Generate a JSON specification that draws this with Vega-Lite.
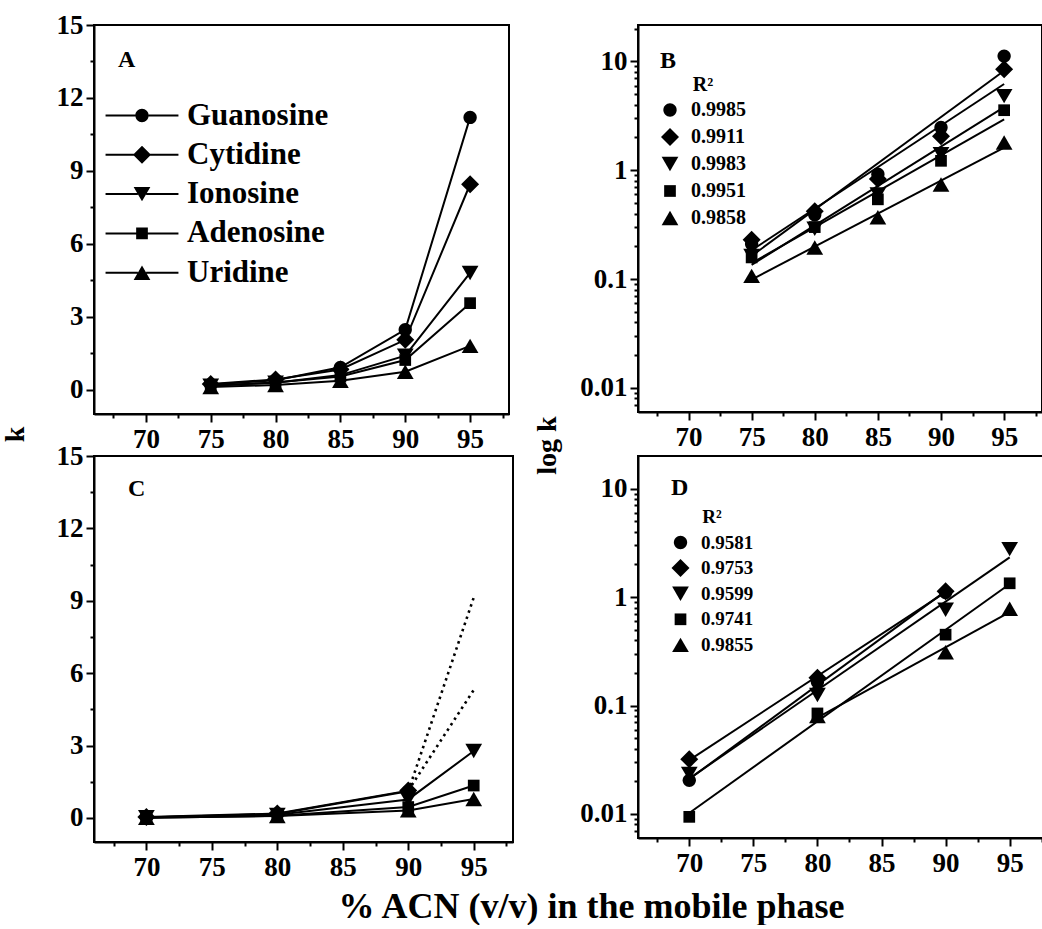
{
  "$schema": "https://vega.github.io/schema/vega-lite/v6.json",
  "background": "white",
  "padding": {"left": 0, "top": 10, "right": 0, "bottom": 0},
  "columns": 2,
  "spacing": {"row": 42, "column": 125},
  "bounds": "flush",
  "resolve": {"scale": {"shape": "independent"}, "legend": {"shape": "independent"}},
  "config": {
    "font": "Liberation Serif",
    "view": {"stroke": "black", "strokeWidth": 2},
    "axis": {
      "domainColor": "black", "domainWidth": 2, "tickColor": "black", "tickWidth": 2,
      "labelFont": "Liberation Serif", "labelFontWeight": "bold", "labelFontSize": 27, "labelColor": "black",
      "labelFlush": false, "labelOverlap": false, "grid": false, "labelPadding": 3,
      "titleFont": "Liberation Serif", "titleFontWeight": "bold", "titleColor": "black"
    },
    "axisX": {"labelPadding": 4},
    "legend": {
      "labelFont": "Liberation Serif", "labelFontWeight": "bold", "labelColor": "black", "labelLimit": 300,
      "titleFont": "Liberation Serif", "titleFontWeight": "bold", "titleColor": "black",
      "symbolFillColor": "black", "symbolStrokeWidth": 0, "symbolSize": 324, "symbolOpacity": 1, "padding": 0
    },
    "title": {"font": "Liberation Serif", "fontSize": 24, "fontWeight": "bold", "color": "black", "anchor": "start", "frame": "group", "baseline": "alphabetic"}
  },
  "datasets": {
    "ab": [
      {"compound": "Guanosine", "r2": "0.9985", "acn": 75, "k": 0.21},
      {"compound": "Guanosine", "r2": "0.9985", "acn": 80, "k": 0.39},
      {"compound": "Guanosine", "r2": "0.9985", "acn": 85, "k": 0.92},
      {"compound": "Guanosine", "r2": "0.9985", "acn": 90, "k": 2.47},
      {"compound": "Guanosine", "r2": "0.9985", "acn": 95, "k": 11.2},
      {"compound": "Cytidine", "r2": "0.9911", "acn": 75, "k": 0.23},
      {"compound": "Cytidine", "r2": "0.9911", "acn": 80, "k": 0.42},
      {"compound": "Cytidine", "r2": "0.9911", "acn": 85, "k": 0.83},
      {"compound": "Cytidine", "r2": "0.9911", "acn": 90, "k": 2.05},
      {"compound": "Cytidine", "r2": "0.9911", "acn": 95, "k": 8.45},
      {"compound": "Ionosine", "r2": "0.9983", "acn": 75, "k": 0.163},
      {"compound": "Ionosine", "r2": "0.9983", "acn": 80, "k": 0.29},
      {"compound": "Ionosine", "r2": "0.9983", "acn": 85, "k": 0.6},
      {"compound": "Ionosine", "r2": "0.9983", "acn": 90, "k": 1.4},
      {"compound": "Ionosine", "r2": "0.9983", "acn": 95, "k": 4.8},
      {"compound": "Adenosine", "r2": "0.9951", "acn": 75, "k": 0.158},
      {"compound": "Adenosine", "r2": "0.9951", "acn": 80, "k": 0.3},
      {"compound": "Adenosine", "r2": "0.9951", "acn": 85, "k": 0.54},
      {"compound": "Adenosine", "r2": "0.9951", "acn": 90, "k": 1.22},
      {"compound": "Adenosine", "r2": "0.9951", "acn": 95, "k": 3.56},
      {"compound": "Uridine", "r2": "0.9858", "acn": 75, "k": 0.107},
      {"compound": "Uridine", "r2": "0.9858", "acn": 80, "k": 0.195},
      {"compound": "Uridine", "r2": "0.9858", "acn": 85, "k": 0.37},
      {"compound": "Uridine", "r2": "0.9858", "acn": 90, "k": 0.74},
      {"compound": "Uridine", "r2": "0.9858", "acn": 95, "k": 1.8}
    ],
    "fitB": [
      {"compound": "Guanosine", "acn": 75, "k": 0.163},
      {"compound": "Guanosine", "acn": 95, "k": 8.2},
      {"compound": "Cytidine", "acn": 75, "k": 0.184},
      {"compound": "Cytidine", "acn": 95, "k": 6.2},
      {"compound": "Ionosine", "acn": 75, "k": 0.135},
      {"compound": "Ionosine", "acn": 95, "k": 3.8},
      {"compound": "Adenosine", "acn": 75, "k": 0.14},
      {"compound": "Adenosine", "acn": 95, "k": 2.93},
      {"compound": "Uridine", "acn": 75, "k": 0.099},
      {"compound": "Uridine", "acn": 95, "k": 1.61}
    ],
    "cd": [
      {"compound": "Guanosine", "r2": "0.9581", "acn": 70, "k": 0.0204, "est": false},
      {"compound": "Guanosine", "r2": "0.9581", "acn": 80, "k": 0.165, "est": false},
      {"compound": "Guanosine", "r2": "0.9581", "acn": 90, "k": 1.1, "est": false},
      {"compound": "Guanosine", "r2": "0.9581", "acn": 95, "k": 9.13, "est": true},
      {"compound": "Cytidine", "r2": "0.9753", "acn": 70, "k": 0.032, "est": false},
      {"compound": "Cytidine", "r2": "0.9753", "acn": 80, "k": 0.18, "est": false},
      {"compound": "Cytidine", "r2": "0.9753", "acn": 90, "k": 1.13, "est": false},
      {"compound": "Cytidine", "r2": "0.9753", "acn": 95, "k": 5.3, "est": true},
      {"compound": "Ionosine", "r2": "0.9599", "acn": 70, "k": 0.0234, "est": false},
      {"compound": "Ionosine", "r2": "0.9599", "acn": 80, "k": 0.125, "est": false},
      {"compound": "Ionosine", "r2": "0.9599", "acn": 90, "k": 0.765, "est": false},
      {"compound": "Ionosine", "r2": "0.9599", "acn": 95, "k": 2.77, "est": false},
      {"compound": "Adenosine", "r2": "0.9741", "acn": 70, "k": 0.0094, "est": false},
      {"compound": "Adenosine", "r2": "0.9741", "acn": 80, "k": 0.0845, "est": false},
      {"compound": "Adenosine", "r2": "0.9741", "acn": 90, "k": 0.45, "est": false},
      {"compound": "Adenosine", "r2": "0.9741", "acn": 95, "k": 1.34, "est": false},
      {"compound": "Uridine", "r2": "0.9855", "acn": 70, "k": 0.003, "est": false},
      {"compound": "Uridine", "r2": "0.9855", "acn": 80, "k": 0.08, "est": false},
      {"compound": "Uridine", "r2": "0.9855", "acn": 90, "k": 0.31, "est": false},
      {"compound": "Uridine", "r2": "0.9855", "acn": 95, "k": 0.78, "est": false}
    ],
    "fitD": [
      {"compound": "Guanosine", "acn": 70, "k": 0.021},
      {"compound": "Guanosine", "acn": 90, "k": 1.135},
      {"compound": "Cytidine", "acn": 70, "k": 0.0314},
      {"compound": "Cytidine", "acn": 90, "k": 1.11},
      {"compound": "Ionosine", "acn": 70, "k": 0.0212},
      {"compound": "Ionosine", "acn": 95, "k": 2.32},
      {"compound": "Adenosine", "acn": 70, "k": 0.0102},
      {"compound": "Adenosine", "acn": 95, "k": 1.32},
      {"compound": "Uridine", "acn": 80, "k": 0.0773},
      {"compound": "Uridine", "acn": 95, "k": 0.728}
    ]
  },
  "concat": [
    {
      "width": 415, "height": 389,
      "title": {"text": "A", "dx": 24, "dy": 2, "offset": -59},
      "data": {"name": "ab"},
      "resolve": {"scale": {"shape": "independent"}, "legend": {"shape": "independent"}},
      "encoding": {
        "x": {"field": "acn", "type": "quantitative", "scale": {"domain": [66, 98], "nice": false, "zero": false},
          "axis": {"title": null, "values": [67.5, 70, 72.5, 75, 77.5, 80, 82.5, 85, 87.5, 90, 92.5, 95, 97.5],
            "labelExpr": "datum.value % 5 === 0 ? format(datum.value, 'd') : ''",
            "tickSize": {"condition": {"test": "datum.value % 5 !== 0", "value": 4}, "value": 8}}},
        "y": {"field": "k", "type": "quantitative", "scale": {"domain": [-1, 15], "nice": false, "zero": false},
          "axis": {"title": "k", "titleFontSize": 28, "titleX": -71, "titleY": 409, "titleAlign": "center", "titleBaseline": "alphabetic", "titleAngle": -90,
            "values": [0, 1.5, 3, 4.5, 6, 7.5, 9, 10.5, 12, 13.5, 15],
            "labelExpr": "datum.value % 3 === 0 ? format(datum.value, 'd') : ''",
            "tickSize": {"condition": {"test": "datum.value % 3 !== 0", "value": 4}, "value": 8}}}
      },
      "layer": [
        {"mark": {"type": "line", "color": "black", "strokeWidth": 2},
         "encoding": {"detail": {"field": "compound", "type": "nominal"}}},
        {"mark": {"type": "point", "filled": true, "color": "black", "opacity": 1, "size": 324, "strokeWidth": 0},
         "encoding": {"shape": {"field": "compound", "type": "nominal",
           "scale": {"domain": ["Guanosine", "Cytidine", "Ionosine", "Adenosine", "Uridine"],
             "range": ["M-0.74,0A0.74,0.74,0,1,1,0.74,0A0.74,0.74,0,1,1,-0.74,0Z", "M-1,0L0,-1L1,0L0,1Z", "M-0.93,-0.8L0.93,-0.8L0,0.8Z", "M-0.65,-0.65L0.65,-0.65L0.65,0.65L-0.65,0.65Z", "M0,-0.8L0.93,0.8L-0.93,0.8Z"]},
           "legend": null}}},
        {"mark": {"type": "point", "filled": true, "color": "black", "opacity": 0, "size": 324, "strokeWidth": 0},
         "encoding": {"shape": {"field": "compound", "type": "nominal",
           "scale": {"domain": ["Guanosine", "Cytidine", "Ionosine", "Adenosine", "Uridine"],
             "range": [
               "M-4.05,-0.11L-0.74,-0.11L-0.74,0.11L-4.05,0.11Z M0.74,-0.11L4.05,-0.11L4.05,0.11L0.74,0.11Z M-0.74,0A0.74,0.74,0,1,1,0.74,0A0.74,0.74,0,1,1,-0.74,0Z",
               "M-4.05,-0.11L-0.9,-0.11L-0.9,0.11L-4.05,0.11Z M0.9,-0.11L4.05,-0.11L4.05,0.11L0.9,0.11Z M-1,0L0,-1L1,0L0,1Z",
               "M-4.05,-0.11L-0.46,-0.11L-0.46,0.11L-4.05,0.11Z M0.46,-0.11L4.05,-0.11L4.05,0.11L0.46,0.11Z M-0.93,-0.8L0.93,-0.8L0,0.8Z",
               "M-4.05,-0.11L-0.65,-0.11L-0.65,0.11L-4.05,0.11Z M0.65,-0.11L4.05,-0.11L4.05,0.11L0.65,0.11Z M-0.65,-0.65L0.65,-0.65L0.65,0.65L-0.65,0.65Z",
               "M-4.05,-0.11L-0.46,-0.11L-0.46,0.11L-4.05,0.11Z M0.46,-0.11L4.05,-0.11L4.05,0.11L0.46,0.11Z M0,-0.8L0.93,0.8L-0.93,0.8Z"]},
           "legend": {"title": null, "orient": "none", "legendX": 32.5, "legendY": 75,
             "labelFontSize": 31, "labelOffset": 29.5, "rowPadding": 7.3, "symbolSize": 324, "symbolOpacity": 1}}}}
      ]
    },
    {
      "width": 404, "height": 387,
      "title": {"text": "B", "dx": 22, "dy": 4, "offset": -54},
      "encoding": {
        "x": {"field": "acn", "type": "quantitative", "scale": {"domain": [66, 98], "nice": false, "zero": false},
          "axis": {"title": null, "values": [67.5, 70, 72.5, 75, 77.5, 80, 82.5, 85, 87.5, 90, 92.5, 95, 97.5],
            "labelExpr": "datum.value % 5 === 0 ? format(datum.value, 'd') : ''",
            "tickSize": {"condition": {"test": "datum.value % 5 !== 0", "value": 4}, "value": 8}}},
        "y": {"field": "k", "type": "quantitative", "scale": {"type": "log", "domain": [0.006, 21.6], "nice": false},
          "axis": {"title": "log k", "titleFontSize": 28, "titleX": -83, "titleY": 420, "titleAlign": "center", "titleBaseline": "alphabetic", "titleAngle": -90,
            "values": [0.007, 0.008, 0.009, 0.01, 0.02, 0.03, 0.04, 0.05, 0.06, 0.07, 0.08, 0.09, 0.1, 0.2, 0.3, 0.4, 0.5, 0.6, 0.7, 0.8, 0.9, 1, 2, 3, 4, 5, 6, 7, 8, 9, 10, 20],
            "labelExpr": "abs(log(datum.value)/LN10 - round(log(datum.value)/LN10)) < 0.001 ? format(datum.value, '~g') : ''",
            "tickSize": {"condition": {"test": "abs(log(datum.value)/LN10 - round(log(datum.value)/LN10)) >= 0.001", "value": 4}, "value": 8}}}
      },
      "layer": [
        {"data": {"name": "fitB"}, "mark": {"type": "line", "color": "black", "strokeWidth": 2},
         "encoding": {"detail": {"field": "compound", "type": "nominal"}}},
        {"data": {"name": "ab"}, "mark": {"type": "point", "filled": true, "color": "black", "opacity": 1, "size": 324, "strokeWidth": 0},
         "encoding": {"shape": {"field": "r2", "type": "nominal",
           "scale": {"domain": ["0.9985", "0.9911", "0.9983", "0.9951", "0.9858"],
             "range": ["M-0.74,0A0.74,0.74,0,1,1,0.74,0A0.74,0.74,0,1,1,-0.74,0Z", "M-1,0L0,-1L1,0L0,1Z", "M-0.93,-0.8L0.93,-0.8L0,0.8Z", "M-0.65,-0.65L0.65,-0.65L0.65,0.65L-0.65,0.65Z", "M0,-0.8L0.93,0.8L-0.93,0.8Z"]},
           "legend": {"title": "R²", "orient": "none", "legendX": 22, "legendY": 50, "titleFontSize": 20, "titlePadding": 5,
             "titleAnchor": "middle", "titleAlign": "center",
             "labelFontSize": 20, "labelOffset": 11, "rowPadding": 7, "symbolSize": 324}}}}
      ]
    },
    {
      "width": 419, "height": 386,
      "title": {"text": "C", "dx": 34, "dy": 2, "offset": -57},
      "data": {"name": "cd"},
      "encoding": {
        "x": {"field": "acn", "type": "quantitative", "scale": {"domain": [66, 98], "nice": false, "zero": false},
          "axis": {"title": "% ACN (v/v) in the mobile phase", "titleFontSize": 36, "titleX": 497, "titleY": 75, "titleAlign": "center", "titleBaseline": "alphabetic",
            "values": [67.5, 70, 72.5, 75, 77.5, 80, 82.5, 85, 87.5, 90, 92.5, 95, 97.5],
            "labelExpr": "datum.value % 5 === 0 ? format(datum.value, 'd') : ''",
            "tickSize": {"condition": {"test": "datum.value % 5 !== 0", "value": 4}, "value": 8}}},
        "y": {"field": "k", "type": "quantitative", "scale": {"domain": [-1, 15], "nice": false, "zero": false},
          "axis": {"title": null,
            "values": [0, 1.5, 3, 4.5, 6, 7.5, 9, 10.5, 12, 13.5, 15],
            "labelExpr": "datum.value % 3 === 0 ? format(datum.value, 'd') : ''",
            "tickSize": {"condition": {"test": "datum.value % 3 !== 0", "value": 4}, "value": 8}}}
      },
      "layer": [
        {"transform": [{"filter": {"and": [{"field": "acn", "gte": 90}, {"field": "compound", "oneOf": ["Guanosine", "Cytidine"]}]}}],
         "mark": {"type": "line", "color": "black", "strokeWidth": 2.6, "strokeDash": [2.5, 4]},
         "encoding": {"detail": {"field": "compound", "type": "nominal"}}},
        {"transform": [{"filter": "!datum.est"}],
         "mark": {"type": "line", "color": "black", "strokeWidth": 2},
         "encoding": {"detail": {"field": "compound", "type": "nominal"}}},
        {"transform": [{"filter": "!datum.est"}],
         "mark": {"type": "point", "filled": true, "color": "black", "opacity": 1, "size": 324, "strokeWidth": 0},
         "encoding": {"shape": {"field": "compound", "type": "nominal",
           "scale": {"domain": ["Guanosine", "Cytidine", "Ionosine", "Adenosine", "Uridine"],
             "range": ["M-0.74,0A0.74,0.74,0,1,1,0.74,0A0.74,0.74,0,1,1,-0.74,0Z", "M-1,0L0,-1L1,0L0,1Z", "M-0.93,-0.8L0.93,-0.8L0,0.8Z", "M-0.65,-0.65L0.65,-0.65L0.65,0.65L-0.65,0.65Z", "M0,-0.8L0.93,0.8L-0.93,0.8Z"]},
           "legend": null}}}
      ]
    },
    {
      "width": 405, "height": 382,
      "title": {"text": "D", "dx": 33, "dy": 2, "offset": -42},
      "encoding": {
        "x": {"field": "acn", "type": "quantitative", "scale": {"domain": [66, 97.6], "nice": false, "zero": false},
          "axis": {"title": null, "values": [67.5, 70, 72.5, 75, 77.5, 80, 82.5, 85, 87.5, 90, 92.5, 95, 97.5],
            "labelExpr": "datum.value % 5 === 0 ? format(datum.value, 'd') : ''",
            "tickSize": {"condition": {"test": "datum.value % 5 !== 0", "value": 4}, "value": 8}}},
        "y": {"field": "k", "type": "quantitative", "scale": {"type": "log", "domain": [0.006, 20], "nice": false},
          "axis": {"title": null,
            "values": [0.007, 0.008, 0.009, 0.01, 0.02, 0.03, 0.04, 0.05, 0.06, 0.07, 0.08, 0.09, 0.1, 0.2, 0.3, 0.4, 0.5, 0.6, 0.7, 0.8, 0.9, 1, 2, 3, 4, 5, 6, 7, 8, 9, 10],
            "labelExpr": "abs(log(datum.value)/LN10 - round(log(datum.value)/LN10)) < 0.001 ? format(datum.value, '~g') : ''",
            "tickSize": {"condition": {"test": "abs(log(datum.value)/LN10 - round(log(datum.value)/LN10)) >= 0.001", "value": 4}, "value": 8}}}
      },
      "layer": [
        {"data": {"name": "fitD"}, "mark": {"type": "line", "color": "black", "strokeWidth": 2},
         "encoding": {"detail": {"field": "compound", "type": "nominal"}}},
        {"data": {"name": "cd"}, "transform": [{"filter": "!datum.est && datum.k > 0.006"}],
         "mark": {"type": "point", "filled": true, "color": "black", "opacity": 1, "size": 324, "strokeWidth": 0},
         "encoding": {"shape": {"field": "r2", "type": "nominal",
           "scale": {"domain": ["0.9581", "0.9753", "0.9599", "0.9741", "0.9855"],
             "range": ["M-0.74,0A0.74,0.74,0,1,1,0.74,0A0.74,0.74,0,1,1,-0.74,0Z", "M-1,0L0,-1L1,0L0,1Z", "M-0.93,-0.8L0.93,-0.8L0,0.8Z", "M-0.65,-0.65L0.65,-0.65L0.65,0.65L-0.65,0.65Z", "M0,-0.8L0.93,0.8L-0.93,0.8Z"]},
           "legend": {"title": "R²", "orient": "none", "legendX": 33, "legendY": 52, "titleFontSize": 19, "titlePadding": 6,
             "titleAnchor": "middle", "titleAlign": "center",
             "labelFontSize": 19, "labelOffset": 11, "rowPadding": 5.6, "symbolSize": 324}}}}
      ]
    }
  ]
}
